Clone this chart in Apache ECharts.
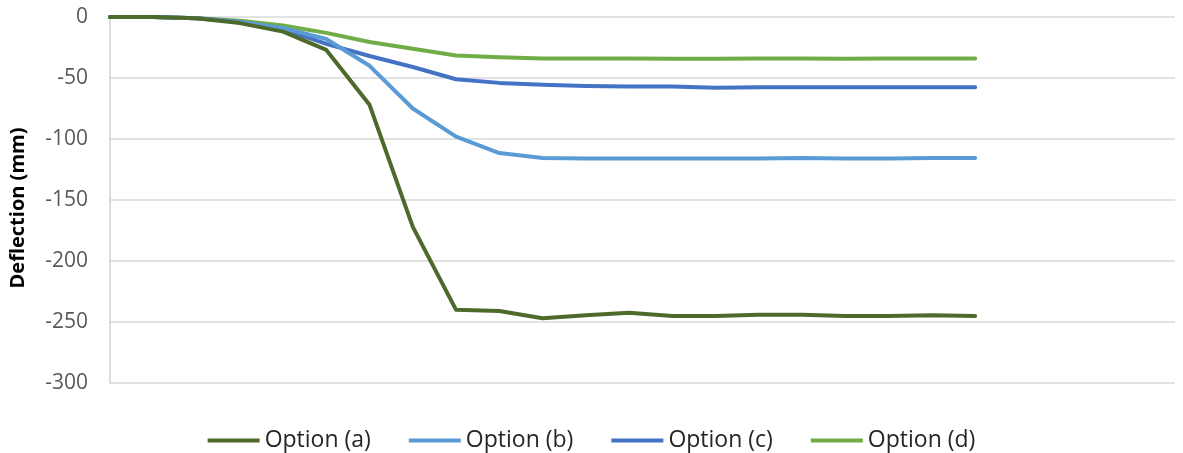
<!DOCTYPE html>
<html>
<head>
<meta charset="utf-8">
<script src="https://cdn.jsdelivr.net/npm/echarts@6/dist/echarts.min.js"></script>
<style>
html,body{margin:0;padding:0;background:#fff;}
#chart{width:1183px;height:453px;}
</style>
</head>
<body>
<div id="chart"></div>
<script>
// Step index along the (unlabelled) horizontal axis
const steps = [0,1,2,3,4,5,6,7,8,9,10,11,12,13,14,15,16,17,18,19,20];
const seriesNames = ['Option (a)','Option (b)','Option (c)','Option (d)'];
const optionA = [0,0,-1,-5,-12,-27,-72,-172,-240,-241,-247,-244.5,-242.5,-245,-245,-244,-244,-245,-245,-244.5,-245];
const optionB = [0,0,-1,-4,-9,-18,-40,-75,-98,-111.5,-115.5,-116,-116,-116,-116,-116,-115.5,-116,-116,-115.5,-115.5];
const optionC = [0,0,-1,-4,-10,-22,-32,-41,-51,-54,-55.5,-56.5,-57,-57,-58,-57.5,-57.5,-57.5,-57.5,-57.5,-57.5];
const optionD = [0,0,-1,-3,-7,-13,-20.5,-26,-31.5,-33,-34,-34,-34,-34.2,-34.2,-34,-34,-34.2,-34,-34,-34];
const yTicks = [-300,-250,-200,-150,-100,-50,0];
const colors = ['#4d6a2c','#5b9bd5','#4472c4','#70ad47'];

const values = [optionA, optionB, optionC, optionD];
const FONT = '"Open Sans", "Liberation Sans", sans-serif';

const chart = echarts.init(document.getElementById('chart'), null, {renderer:'canvas'});
chart.setOption({
  animation: false,
  backgroundColor: '#ffffff',
  grid: {left: 110, right: 8, top: 17, bottom: 70, containLabel: false},
  xAxis: {
    type: 'value', min: 0, max: 24.62,
    axisLine: {show: false}, axisTick: {show: false}, axisLabel: {show: false}, splitLine: {show: false}
  },
  yAxis: {
    type: 'value', min: yTicks[0], max: yTicks[yTicks.length-1], interval: 50,
    name: 'Deflection (mm)', nameLocation: 'middle', nameGap: 82, nameRotate: 90,
    nameTextStyle: {fontFamily: FONT, fontSize: 20, fontWeight: 'bold', color: '#000', padding: [0,16,0,0]},
    axisLine: {show: true, lineStyle: {color: '#d0d0d0', width: 1.5}},
    axisTick: {show: false},
    axisLabel: {fontFamily: FONT, fontSize: 21, color: '#595959', margin: 22},
    splitLine: {show: true, lineStyle: {color: '#d9d9d9', width: 1.5}}
  },
  legend: {
    top: 424, left: 'center',
    icon: 'rect', itemWidth: 52, itemHeight: 4, itemGap: 38,
    textStyle: {fontFamily: FONT, fontSize: 23, color: '#262626'},
    data: seriesNames
  },
  series: seriesNames.map((n, k) => ({
    name: n, type: 'line', showSymbol: false, symbol: 'none',
    data: steps.map((s, i) => [s, values[k][i]]),
    lineStyle: {color: colors[k], width: 4, cap: 'round', join: 'round'},
    itemStyle: {color: colors[k]},
    z: 10 - k
  }))
});
</script>
</body>
</html>
